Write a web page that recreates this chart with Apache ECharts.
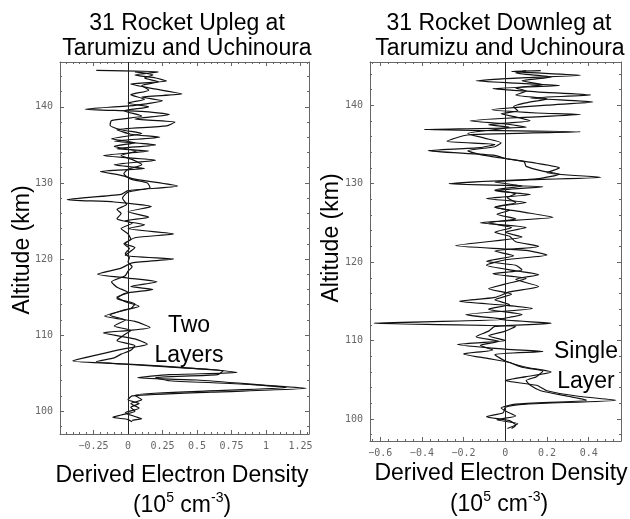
<!DOCTYPE html>
<html>
<head>
<meta charset="utf-8">
<script src="https://cdn.jsdelivr.net/npm/echarts@6/dist/echarts.min.js"></script>
<style>
  html, body { margin: 0; padding: 0; background: #fff; }
  #main { width: 630px; height: 519px; }
</style>
</head>
<body>
<div id="main"></div>
<script>
// [density (1e5 cm^-3), altitude (km)]
var upA = [
  [-0.23, 144.8], [0.22, 144.6], [0.05, 144.2], [0.20, 143.8], [0.28, 143.4], [0.02, 143.0],
  [0.18, 142.4], [0.39, 141.7], [0.10, 141.3], [0.25, 140.8], [0.05, 140.2], [-0.31, 139.7],
  [0.10, 139.4], [0.30, 139.0], [0.05, 138.4], [0.34, 138.0], [0.28, 137.5], [-0.08, 137.0],
  [0.02, 136.4], [0.23, 136.0], [-0.10, 135.5], [0.20, 135.0], [-0.08, 134.5], [0.15, 134.2],
  [-0.18, 133.6], [0.20, 133.0], [-0.10, 132.4], [0.12, 131.9], [-0.20, 131.5], [-0.05, 131.0],
  [0.05, 130.5], [0.36, 129.6], [0.0, 129.0], [-0.05, 128.5], [-0.44, 127.8], [-0.10, 127.5],
  [0.17, 126.9], [0.0, 126.2], [0.15, 125.5], [-0.02, 125.0], [0.12, 124.5], [0.0, 124.0],
  [0.33, 123.3], [0.05, 122.8], [-0.02, 122.0], [0.05, 121.5], [-0.02, 120.5], [0.33, 120.0],
  [0.03, 119.5], [-0.05, 118.8], [-0.22, 118.0], [0.0, 117.5], [0.21, 117.0], [0.02, 116.4],
  [0.18, 116.0], [-0.02, 115.5], [-0.08, 114.8], [0.05, 114.1], [0.02, 113.5], [-0.17, 112.5],
  [0.05, 111.8], [0.16, 111.0], [0.0, 110.6], [-0.18, 110.3], [0.05, 109.5], [0.14, 108.8],
  [-0.03, 108.2], [-0.20, 107.5], [-0.40, 106.6], [0.0, 106.2], [0.50, 105.6], [0.79, 105.1],
  [0.30, 104.8], [0.07, 104.4], [0.50, 104.1], [1.0, 103.4], [1.29, 103.0], [0.60, 102.5],
  [0.03, 102.0], [0.0, 101.5], [0.08, 101.0], [0.02, 100.5], [0.05, 100.0], [-0.05, 99.5],
  [-0.11, 99.2], [0.0, 98.9], [0.03, 98.6]
];
var upB = [
  [0.05, 144.6], [0.18, 144.2], [0.12, 143.8], [0.22, 143.3], [0.10, 142.8], [0.15, 142.2],
  [0.02, 141.6], [0.12, 141.0], [0.0, 140.5], [0.15, 140.0], [-0.03, 139.5], [0.10, 138.8],
  [-0.12, 138.2], [-0.13, 137.6], [-0.05, 137.0], [0.10, 136.5], [-0.12, 135.8], [0.05, 135.3],
  [-0.10, 134.8], [0.06, 134.2], [-0.05, 133.6], [0.04, 133.0], [0.10, 132.4], [0.0, 131.8],
  [-0.03, 131.2], [0.02, 130.5], [0.14, 130.0], [0.16, 129.4], [0.0, 128.8], [-0.04, 128.0],
  [-0.01, 127.2], [-0.08, 126.5], [-0.05, 126.0], [-0.08, 125.3], [0.03, 124.7], [-0.05, 124.0],
  [0.0, 123.3], [0.02, 122.6], [-0.03, 122.0], [0.01, 121.4], [-0.02, 120.7], [0.01, 120.2],
  [0.0, 119.6], [0.03, 119.0], [0.0, 118.4], [-0.02, 117.8], [-0.12, 117.0], [-0.08, 116.3],
  [0.0, 115.6], [-0.08, 115.0], [-0.02, 114.4], [0.08, 113.8], [-0.05, 113.2], [-0.13, 112.6],
  [-0.02, 112.0], [-0.10, 111.2], [0.02, 110.6], [-0.03, 110.0], [-0.08, 109.3], [0.05, 108.6],
  [0.02, 108.0], [-0.05, 107.5], [-0.10, 107.0], [-0.23, 106.5], [-0.05, 106.2], [0.40, 105.7],
  [0.69, 105.3], [0.65, 104.8], [0.20, 104.4], [0.30, 104.0], [0.90, 103.5], [1.15, 103.1],
  [0.50, 102.6], [0.05, 102.1], [0.10, 101.5], [0.02, 101.0], [0.08, 100.4], [-0.02, 99.8],
  [0.05, 99.3], [0.10, 99.0], [0.03, 98.8]
];
var downA = [
  [0.17, 144.4], [0.03, 144.3], [0.36, 143.8], [0.10, 143.5], [-0.14, 143.1], [0.05, 142.8],
  [0.26, 142.5], [-0.06, 142.1], [0.15, 141.7], [0.41, 141.3], [0.12, 140.9], [0.42, 140.4],
  [0.20, 140.0], [-0.065, 139.4], [0.15, 139.0], [0.36, 138.8], [0.05, 138.4], [-0.17, 138.0],
  [0.0, 137.6], [0.10, 137.2], [-0.39, 136.9], [0.36, 136.6], [-0.18, 136.2], [-0.28, 135.4],
  [-0.05, 135.0], [-0.12, 134.6], [-0.37, 134.2], [-0.05, 133.6], [0.0, 133.2], [0.15, 132.6],
  [0.26, 132.0], [0.20, 131.4], [0.46, 130.8], [0.0, 130.4], [-0.27, 130.0], [0.18, 129.6],
  [-0.05, 129.1], [0.12, 128.6], [-0.09, 128.1], [0.10, 127.6], [-0.05, 127.0], [0.08, 126.4],
  [0.23, 125.7], [-0.12, 125.0], [0.10, 124.4], [0.0, 123.8], [0.08, 123.2], [-0.24, 122.1],
  [0.10, 121.5], [0.20, 120.9], [0.0, 120.3], [-0.09, 119.6], [0.05, 118.9], [0.16, 118.4],
  [0.05, 117.8], [0.16, 116.9], [0.02, 116.2], [-0.05, 115.5], [-0.22, 115.0], [0.0, 114.5],
  [0.13, 114.1], [-0.19, 113.3], [0.0, 112.7], [-0.63, 112.2], [0.05, 111.8], [0.0, 111.2],
  [-0.08, 110.6], [0.0, 110.0], [-0.23, 109.5], [0.0, 108.9], [0.18, 108.6], [-0.05, 108.2],
  [0.0, 107.4], [0.10, 106.6], [0.22, 106.0], [0.10, 105.4], [0.0, 104.9], [0.15, 104.3],
  [0.20, 103.6], [0.35, 102.9], [0.53, 102.4], [0.10, 101.9], [0.0, 101.5], [-0.01, 100.8],
  [-0.09, 100.3], [0.02, 99.8], [0.05, 99.2], [0.03, 98.8]
];
var downB = [
  [0.10, 144.4], [0.05, 144.1], [0.22, 143.6], [0.08, 143.1], [0.18, 142.6], [0.05, 142.2],
  [0.10, 141.8], [0.05, 141.3], [0.20, 140.8], [0.10, 140.3], [0.04, 139.8], [0.06, 139.3],
  [-0.02, 138.9], [0.05, 138.5], [0.12, 138.0], [-0.08, 137.5], [0.02, 137.2], [-0.05, 136.9],
  [-0.18, 136.4], [-0.10, 135.8], [-0.02, 135.2], [-0.05, 134.7], [-0.18, 134.2], [-0.10, 133.6],
  [0.0, 133.2], [0.09, 132.8], [0.10, 132.2], [0.18, 131.6], [0.26, 131.2], [0.15, 130.6],
  [-0.05, 130.2], [0.08, 129.7], [-0.05, 129.2], [0.05, 128.7], [0.01, 128.2], [0.05, 127.6],
  [-0.05, 127.0], [0.02, 126.6], [-0.04, 126.1], [0.05, 125.5], [-0.08, 125.0], [0.03, 124.4],
  [-0.05, 123.8], [0.02, 123.3], [0.05, 122.6], [0.16, 122.0], [-0.05, 121.4], [0.04, 120.8],
  [-0.09, 120.1], [0.05, 119.6], [0.08, 119.0], [-0.06, 118.5], [0.10, 117.9], [0.0, 117.2],
  [-0.08, 116.6], [0.03, 115.9], [-0.05, 115.2], [0.02, 114.6], [-0.08, 114.0], [0.08, 113.3],
  [-0.03, 112.7], [0.22, 112.2], [-0.05, 111.8], [-0.08, 111.2], [-0.14, 110.5], [-0.03, 109.9],
  [-0.12, 109.4], [-0.06, 108.8], [-0.20, 108.3], [-0.08, 107.7], [0.02, 107.2], [0.08, 106.6],
  [0.18, 106.1], [0.15, 105.4], [0.10, 104.9], [0.12, 104.3], [0.17, 103.6], [0.30, 102.9],
  [0.39, 102.4], [0.05, 101.9], [-0.02, 101.4], [0.01, 100.9], [0.05, 100.4], [-0.04, 99.9],
  [0.06, 99.4], [0.01, 98.8]
];

var upXTicks = [-0.25, 0, 0.25, 0.5, 0.75, 1, 1.25];
var downXTicks = [-0.6, -0.4, -0.2, 0, 0.2, 0.4];
var altTicks = [100, 110, 120, 130, 140];

function steps(from, to, step) {
  var out = [];
  for (var v = from; v <= to + 1e-9; v += step) out.push(Math.round(v * 1000) / 1000);
  return out;
}

var frameColor = "#666";
var tickFont = { fontFamily: "DejaVu Sans Mono", fontSize: 10, color: "#666" };

function minusFmt(v) {
  return String(v).replace("-", "\u2212");
}

// one side of the frame box
function side(grid, min, max, pos, ticks, len, showLine, label) {
  return {
    type: "value",
    gridIndex: grid,
    min: min,
    max: max,
    position: pos,
    splitLine: { show: false },
    axisLine: { show: showLine, onZero: false, lineStyle: { color: frameColor } },
    axisTick: { inside: true, length: len, customValues: ticks, lineStyle: { color: frameColor } },
    axisLabel: label || { show: false }
  };
}

function xAxes(grid, min, max, major, minor) {
  var lab = Object.assign({ customValues: major, margin: 7, formatter: minusFmt }, tickFont);
  return [
    side(grid, min, max, "bottom", major, 4, true, lab),
    side(grid, min, max, "bottom", minor, 2, false),
    side(grid, min, max, "top", major, 4, true),
    side(grid, min, max, "top", minor, 2, false)
  ];
}

function yAxes(grid, min, max, major, minor) {
  var lab = Object.assign({ customValues: major, margin: 7 }, tickFont);
  return [
    side(grid, min, max, "left", major, 4, true, lab),
    side(grid, min, max, "left", minor, 2, false),
    side(grid, min, max, "right", major, 4, true),
    side(grid, min, max, "right", minor, 2, false)
  ];
}

function profile(data, xi, yi, withZero) {
  var s = {
    type: "line",
    data: data,
    xAxisIndex: xi,
    yAxisIndex: yi,
    showSymbol: false,
    smooth: 0.2,
    silent: true,
    lineStyle: { color: "#111", width: 1.2 },
    z: 3
  };
  if (withZero) {
    s.markLine = {
      silent: true,
      symbol: ["none", "none"],
      label: { show: false },
      lineStyle: { color: "#222", width: 1, type: "solid" },
      data: [{ xAxis: 0 }]
    };
  }
  return s;
}

var bigFont = "Liberation Sans";
function txt(x, y, text, extra) {
  return {
    type: "text",
    x: x,
    y: y,
    rotation: extra && extra.rotation ? extra.rotation : 0,
    style: {
      text: text,
      fontFamily: bigFont,
      fontSize: 23,
      fill: "#000",
      align: "center",
      verticalAlign: "middle",
      rich: extra && extra.rich ? extra.rich : undefined
    }
  };
}

var unitRich = {
  a: { fontFamily: bigFont, fontSize: 23, lineHeight: 26, verticalAlign: "bottom" },
  s: { fontFamily: bigFont, fontSize: 14, lineHeight: 26, verticalAlign: "top" }
};

var myChart = echarts.init(document.getElementById("main"));
var option = {
  animation: false,
  backgroundColor: "#fff",
  grid: [
    { left: 60, top: 62, width: 249, height: 372 },
    { left: 370, top: 62, width: 251, height: 379 }
  ],
  xAxis: xAxes(0, -0.493, 1.312, upXTicks, steps(-0.45, 1.3, 0.05))
    .concat(xAxes(1, -0.649, 0.555, downXTicks, steps(-0.64, 0.52, 0.04))),
  yAxis: yAxes(0, 97.0, 145.9, altTicks, steps(98, 144, 2))
    .concat(yAxes(1, 97.2, 145.5, altTicks, steps(98, 144, 2))),
  series: [
    profile(upA, 0, 0, true),
    profile(upB, 0, 0, false),
    profile(downA, 4, 4, true),
    profile(downB, 4, 4, false)
  ],
  graphic: [
    txt(187, 24, "31 Rocket Upleg at"),
    txt(187, 49, "Tarumizu and Uchinoura"),
    txt(499, 24, "31 Rocket Downleg at"),
    txt(500, 49, "Tarumizu and Uchinoura"),
    txt(23, 250, "Altitude (km)", { rotation: Math.PI / 2 }),
    txt(332, 238, "Altitude (km)", { rotation: Math.PI / 2 }),
    txt(182, 476, "Derived Electron Density"),
    txt(501, 474, "Derived Electron Density"),
    txt(182, 504, "{a|(10}{s|5}{a| cm}{s|-3}{a|)}", { rich: unitRich }),
    txt(499, 503, "{a|(10}{s|5}{a| cm}{s|-3}{a|)}", { rich: unitRich }),
    txt(189, 326, "Two"),
    txt(189, 356, "Layers"),
    txt(586, 352, "Single"),
    txt(586, 382, "Layer")
  ]
};
myChart.setOption(option);
</script>
</body>
</html>
